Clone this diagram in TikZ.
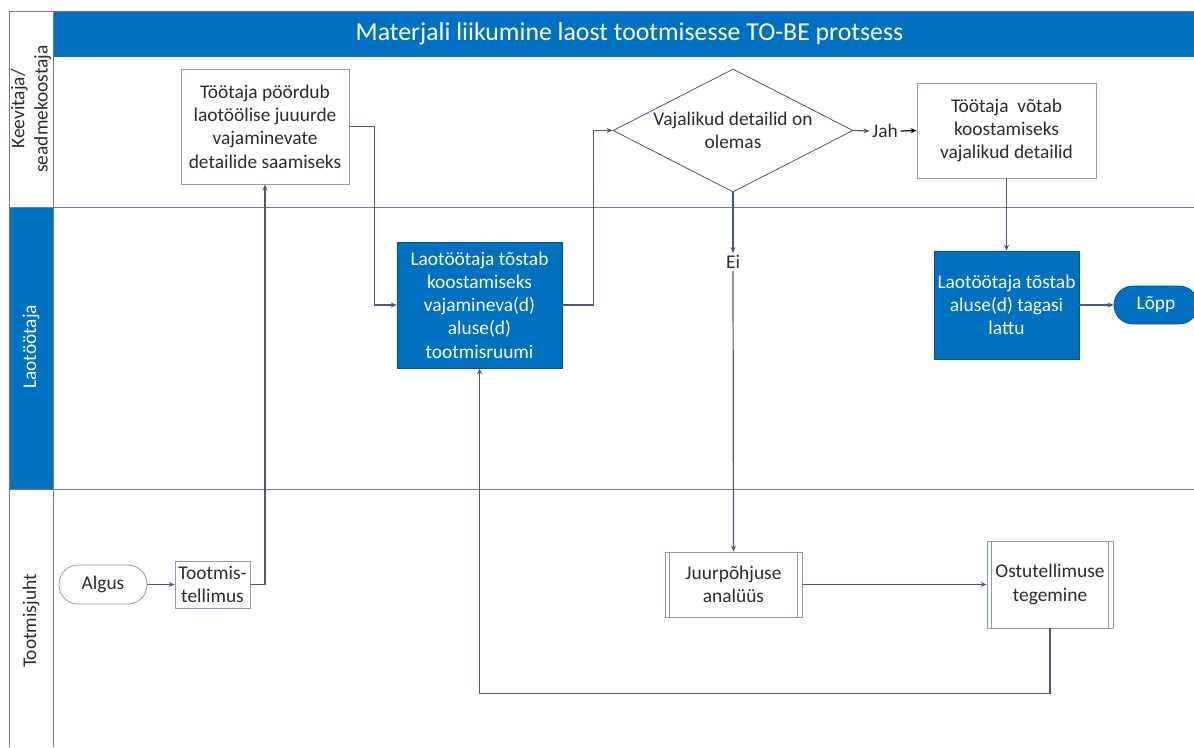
\documentclass[tikz,border=0pt]{standalone}
\usepackage{fontspec}
\setmainfont{Carlito}
\usetikzlibrary{arrows.meta,shapes.geometric}

\definecolor{laneblue}{HTML}{0070C0}
\definecolor{flow}{HTML}{4A5786}
\definecolor{frameline}{HTML}{6D7B95}
\definecolor{boxline}{HTML}{8A9AB5}
\definecolor{ink}{HTML}{262B36}

\begin{document}
\begin{tikzpicture}[x=1pt,y=-1pt,
  every node/.style={font=\fontsize{19.4}{23.3}\selectfont, text=ink, inner sep=0pt},
  task/.style={draw=boxline, line width=0.8pt, fill=white, align=center},
  bluetask/.style={draw=laneblue!75!black, line width=0.6pt, fill=laneblue, text=white, align=center},
  subproc/.style={task, path picture={
      \draw[boxline, line width=0.8pt]
        ([xshift=4.5pt]path picture bounding box.north west) -- ([xshift=4.5pt]path picture bounding box.south west)
        ([xshift=-4.5pt]path picture bounding box.north east) -- ([xshift=-4.5pt]path picture bounding box.south east);}},
  terminal/.style={draw=boxline, line width=0.8pt, fill=white, rounded corners=19pt},
  flowline/.style={draw=flow, line width=1.2pt},
  flowarrow/.style={flowline, -{Stealth[length=6pt,width=5pt]}},
  lanelabel/.style={rotate=90, align=center},
  lanerule/.style={draw=frameline, line width=0.9pt}
]
\useasboundingbox (0,0) rectangle (1194,747);

% swimlane frame
\fill[laneblue] (53,11) rectangle (1194,57);
\fill[laneblue] (9,207) rectangle (53,489);
\draw[lanerule] (9,747) -- (9,11) -- (1194,11);
\draw[lanerule] (53,11) -- (53,747);
\draw[lanerule] (9,207) -- (1194,207);
\draw[lanerule] (9,489) -- (1194,489);

\node[text=white, font=\fontsize{25.8}{30}\selectfont] (title) at (629.5,34) {Materjali liikumine laost tootmisesse TO-BE protsess};

\node[lanelabel] (lane1) at (31,109) {Keevitaja/\\seadmekoostaja};
\node[lanelabel, text=white] (lane2) at (31,347) {Laotöötaja};
\node[lanelabel] (lane3) at (31,621) {Tootmisjuht};

% process steps
\node[task, minimum width=168, minimum height=115] (ask) at (265,126.5)
  {Töötaja pöördub\\laotöölise juuurde\\vajaminevate\\detailide saamiseks};
\node[bluetask, minimum width=165, minimum height=126] (lift) at (479.5,305)
  {Laotöötaja tõstab\\koostamiseks\\vajamineva(d)\\aluse(d)\\tootmisruumi};
\node[diamond, draw=flow, line width=0.8pt, fill=white, minimum width=240, minimum height=123] (dec) at (733,130.5) {};
\node[align=center] (dectext) at (dec.center) {Vajalikud detailid on\\olemas};
\node[task, minimum width=179, minimum height=95] (take) at (1006.5,130.5)
  {Töötaja~~võtab\\koostamiseks\\vajalikud detailid};
\node[bluetask, minimum width=145, minimum height=108] (back) at (1006.5,305)
  {Laotöötaja tõstab\\aluse(d) tagasi\\lattu};
\node[terminal, draw=laneblue!75!black, fill=laneblue, text=white, minimum width=84, minimum height=38] (end) at (1156,305) {Lõpp};

\node[terminal, minimum width=88, minimum height=39] (start) at (103,584.5) {Algus};
\node[task, minimum width=75, minimum height=47] (order) at (212.5,584.5) {Tootmis-\\tellimus};
\node[subproc, minimum width=137, minimum height=65] (root) at (733.5,584.5) {Juurpõhjuse\\analüüs};
\node[subproc, minimum width=126, minimum height=87] (buy) at (1050,584.5) {Ostutellimuse\\tegemine};

\node[inner sep=2.5pt] (yes) at (885,131) {Jah};
\node[inner sep=2pt] (no) at (733,262) {Ei};

% connectors
\draw[flowarrow] (start) -- (order);
\draw[flowarrow] (order.east) -| (ask.south);
\draw[flowarrow] (ask.east) -- ++(25,0) |- (lift.west);
\draw[flowarrow] (lift.east) -- ++(31,0) |- (dec.west);
\draw[flowarrow] (dec.east) -- (yes.west);
\draw[line width=1.2pt, -{Stealth[length=6pt,width=5pt]}] (yes.east) -- (take.west);
\draw[flowarrow] (dec.south) -- (no.north);
\draw[flowarrow] (no.south) -- (root.north);
\draw[flowarrow] (root.east) -- (buy.west);
\draw[flowarrow] (buy.south) -- ++(0,65) -| (lift.south);
\draw[flowarrow] (take.south) -- (back.north);
\draw[flowarrow] (back.east) -- (end.west);
\end{tikzpicture}
\end{document}
